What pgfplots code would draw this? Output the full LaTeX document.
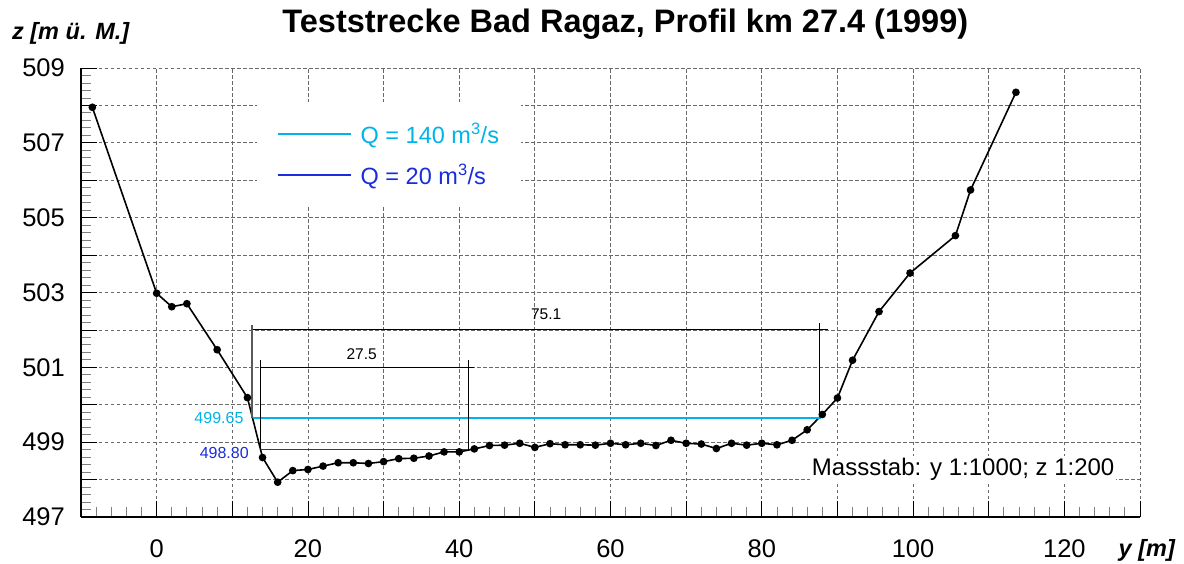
\documentclass[border=0pt]{standalone}
\usepackage{fontspec}
\setmainfont{Liberation Sans}
\usepackage{pgfplots}
\usepackage{pgfplotstable}
\pgfplotsset{compat=1.18}

\definecolor{qcyan}{RGB}{0,180,235}
\definecolor{qblue}{RGB}{25,45,220}
\definecolor{gridgray}{RGB}{105,105,105}

% Querprofil: y [m], z [m ue. M.]
\pgfplotstableread{
y      z
-8.5   507.95
0      502.98
2      502.62
4      502.70
8      501.47
12     500.19
14     498.59
16     497.93
18     498.24
20     498.27
22     498.36
24     498.45
26     498.45
28     498.43
30     498.48
32     498.56
34     498.57
36     498.63
38     498.74
40     498.74
42     498.82
44     498.91
46     498.92
48     498.97
50     498.86
52     498.96
54     498.93
56     498.93
58     498.92
60     498.97
62     498.93
64     498.97
66     498.91
68     499.05
70     498.97
72     498.95
74     498.83
76     498.97
78     498.92
80     498.97
82     498.93
84     499.05
86     499.33
88     499.74
90     500.18
92     501.19
95.5   502.49
99.6   503.52
105.6  504.52
107.6  505.74
113.6  508.35
}\profil

\begin{document}
\begin{tikzpicture}
\useasboundingbox (-81bp,-47bp) rectangle (1103bp,517bp);
\begin{axis}[
    at={(0,0)}, anchor=south west,
    scale only axis, width=1059bp, height=449bp,
    xmin=-10, xmax=130, ymin=497, ymax=509,
    clip=false,
    axis lines=left,
    axis line style={-, line width=2.6bp},
    xtick={-10,0,...,130},
    xticklabels={{},0,{},20,{},40,{},60,{},80,{},100,{},120,{}},
    ytick={497,...,509},
    yticklabels={497,{},499,{},501,{},503,{},505,{},507,{},509},
    minor x tick num=4, minor y tick num=4,
    tick align=inside,
    major tick length=16bp, minor tick length=10bp,
    major tick style={black, line width=0.8bp},
    minor tick style={gray, line width=0.8bp},
    grid=major,
    major grid style={gridgray, line width=0.8bp, dash pattern=on 3.5bp off 2.5bp},
    tick label style={font=\fontsize{25.5bp}{30bp}\selectfont},
    xticklabel style={anchor=base, yshift=-40bp},
    yticklabel style={anchor=east, inner sep=0bp, xshift=-16bp},
    /pgf/number format/assume math mode=true,
    title={Teststrecke Bad Ragaz, Profil km 27.4 (1999)},
    title style={font=\bfseries\fontsize{32.5bp}{38bp}\selectfont,
        at={(0.514,1)}, anchor=base, yshift=30bp},
    legend style={at={(0.1662,0.9243)}, anchor=north west, draw=none, fill=white,
        font=\fontsize{23.5bp}{28bp}\selectfont, inner xsep=20bp, inner ysep=19bp,
        row sep=15bp},
    legend image code/.code={\draw[#1] (0bp,0bp) -- (73bp,0bp); \path (80bp,0bp);},
    legend cell align=left,
]
\addplot[black, line width=1.6bp, mark=*, mark size=3bp, forget plot] table[x=y, y=z] {\profil};
\addplot[qcyan, line width=1.5bp] coordinates {(12.7,499.65) (87.8,499.65)};
\addlegendentry{\textcolor{qcyan}{Q = 140 m\textsuperscript{3}/s}}
\addplot[qblue, line width=1.5bp] coordinates {(13.74,498.80) (41.3,498.80)};
\addlegendentry{\textcolor{qblue}{Q = 20 m\textsuperscript{3}/s}}

% Bemassung
\draw[black, line width=0.9bp] (axis cs:12.6,502) -- (axis cs:88.8,502);
\draw[gray!70!black, line width=1.1bp] (axis cs:12.6,502.12) -- (axis cs:12.6,499.65);
\draw[black, line width=0.8bp] (axis cs:87.6,502.18) -- (axis cs:87.6,499.74);
\node[anchor=base, inner sep=0bp, font=\fontsize{15.5bp}{18bp}\selectfont] at (axis cs:51.5,502.29) {75.1};
\draw[black, line width=0.9bp] (axis cs:13.7,501) -- (axis cs:41.9,501);
\draw[black, line width=0.8bp] (axis cs:13.7,501.2) -- (axis cs:13.7,498.8);
\draw[black, line width=0.8bp] (axis cs:41.2,501.2) -- (axis cs:41.2,498.8);
\node[anchor=base, inner sep=0bp, font=\fontsize{15.5bp}{18bp}\selectfont] at (axis cs:27.1,501.2) {27.5};
\node[anchor=east, inner sep=0bp, text=qcyan, font=\fontsize{16bp}{19bp}\selectfont] at (axis cs:11.5,499.65) {499.65};
\node[anchor=east, inner sep=0bp, text=qblue, font=\fontsize{16bp}{19bp}\selectfont] at (axis cs:12.2,498.72) {498.80};

\node[anchor=base east, fill=white, inner sep=2bp, font=\fontsize{24bp}{29bp}\selectfont] at (axis cs:126.9,498.12) {Massstab: y 1:1000; z 1:200};

\node[anchor=base west, inner sep=0bp, font=\bfseries\itshape\fontsize{23.5bp}{28bp}\selectfont] at (rel axis cs:-0.0652,1.0624) {z [m ü. M.]};
\node[anchor=base east, inner sep=0bp, font=\bfseries\itshape\fontsize{23.5bp}{28bp}\selectfont] at (rel axis cs:1.0331,-0.0869) {y [m]};
\end{axis}
\end{tikzpicture}
\end{document}
